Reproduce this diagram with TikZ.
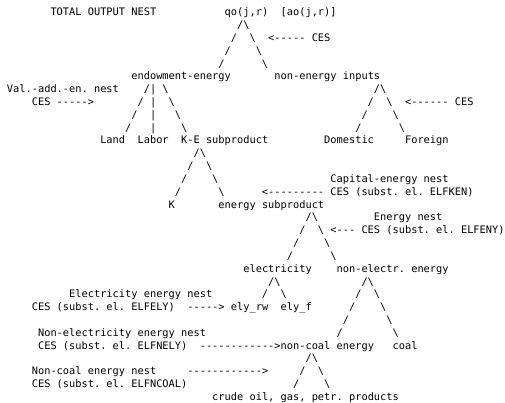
\documentclass[tikz,border=0pt]{standalone}
\usepackage{fontspec}
\newfontfamily\asciifont{DejaVu Sans Mono}[WordSpace={1,0,0},PunctuationSpace=WordSpace]

\tikzset{
  asc/.style={font={\fontsize{7.75}{9.6}\asciifont\frenchspacing}, inner sep=0pt,
    anchor=base west, text=black},
}

% /\ at the top, then one / and one \ per row further out
\newcommand{\nestfork}[4]{%
  \node [asc] (#1) at (#3,#2) {/\textbackslash};
  \foreach \k in {1,...,#4}{
    \node [asc] (#1-l\k) at (#3-\k,#2+\k) {/};
    \node [asc] (#1-r\k) at (#3+1+\k,#2+\k) {\textbackslash};
  }
}

\begin{document}
\begin{tikzpicture}[x=4.665pt, y=-9.615pt]

\useasboundingbox (-1.077,-1.232) rectangle (80.11,30.125);

% total output nest
\node [asc] (total) at (7,0) {TOTAL OUTPUT NEST};
\node [asc] (qo) at (35,0) {qo(j,r)};
\node [asc] (ao) at (44,0) {[ao(j,r)]};
\nestfork{top}{1}{37}{3}
\node [asc] (arr-top) at (42,2) {<-----};
\node [asc] (ces-top) at (49,2) {CES};

\node [asc] (endow) at (20,5) {endowment-energy};
\node [asc] (nonen) at (43,5) {non-energy inputs};

% value added - energy nest
\node [asc] (va-nest) at (0,6) {Val.-add.-en. nest};
\node [asc] (ces-va) at (4,7) {CES};
\node [asc] (arr-va) at (8,7) {----->};
\foreach \k in {0,...,3}{
  \node [asc] (va-l\k) at (22-\k,6+\k) {/};
  \node [asc] (va-m\k) at (23,6+\k) {|};
  \node [asc] (va-r\k) at (25+\k,6+\k) {\textbackslash};
}
\node [asc] (land) at (15,10) {Land};
\node [asc] (labor) at (21,10) {Labor};
\node [asc] (ke) at (28,10) {K-E subproduct};

% non-energy inputs
\nestfork{ne}{6}{59}{3}
\node [asc] (arr-ne) at (64,7) {<------};
\node [asc] (ces-ne) at (72,7) {CES};
\node [asc] (dom) at (51,10) {Domestic};
\node [asc] (for) at (64,10) {Foreign};

% capital - energy nest
\nestfork{kef}{11}{30}{3}
\node [asc] (ke-nest) at (52,13) {Capital-energy nest};
\node [asc] (arr-ke) at (41,14) {<---------};
\node [asc] (ces-ke) at (52,14) {CES (subst. el. ELFKEN)};
\node [asc] (k) at (26,15) {K};
\node [asc] (ensub) at (34,15) {energy subproduct};

% energy nest
\nestfork{en}{16}{48}{3}
\node [asc] (en-nest) at (59,16) {Energy nest};
\node [asc] (arr-en) at (52,17) {<---};
\node [asc] (ces-en) at (57,17) {CES (subst. el. ELFENY)};
\node [asc] (elec) at (38,20) {electricity};
\node [asc] (nonelec) at (53,20) {non-electr. energy};

% electricity
\nestfork{ely}{21}{42}{1}
\node [asc] (ely-nest) at (10,22) {Electricity energy nest};
\node [asc] (ces-ely) at (4,23) {CES (subst. el. ELFELY)};
\node [asc] (arr-ely) at (29,23) {----->};
\node [asc] (ely-rw) at (36,23) {ely\_rw};
\node [asc] (ely-f) at (44,23) {ely\_f};

% non-electricity
\nestfork{nely}{21}{57}{4}
\node [asc] (nely-nest) at (5,25) {Non-electricity energy nest};
\node [asc] (ces-nely) at (5,26) {CES (subst. el. ELFNELY)};
\node [asc] (arr-nely) at (31,26) {------------>};
\node [asc] (noncoal) at (44,26) {non-coal energy};
\node [asc] (coal) at (62,26) {coal};

% non-coal
\nestfork{nc}{27}{48}{2}
\node [asc] (nc-nest) at (4,28) {Non-coal energy nest};
\node [asc] (arr-nc) at (29,28) {------------>};
\node [asc] (ces-nc) at (4,29) {CES (subst. el. ELFNCOAL)};
\node [asc] (crude) at (33,30) {crude oil, gas, petr. products};

\end{tikzpicture}
\end{document}
